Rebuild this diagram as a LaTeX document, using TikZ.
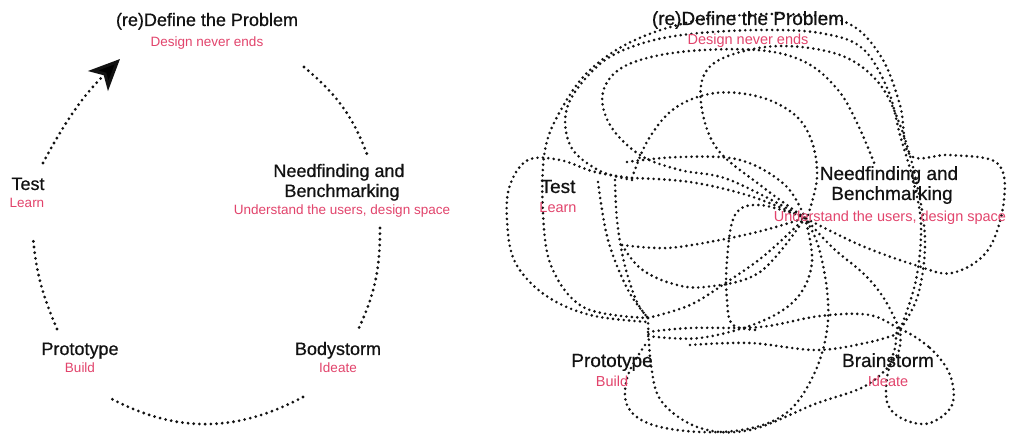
\documentclass[tikz,border=0pt]{standalone}
\usepackage{fontspec}
\setmainfont{Liberation Sans}
\newfontfamily\medfont[FakeBold=0.6]{Liberation Sans}
\usetikzlibrary{arrows.meta}
\definecolor{lbl}{RGB}{226,68,108}
\definecolor{ink}{RGB}{18,18,18}
\begin{document}
\begin{tikzpicture}[x=1pt,y=-1pt,
  dotline/.style={draw=ink, line width=3.1pt, line cap=round, dash pattern=on 0pt off 5.7pt},
  rdot/.style={draw=ink, line width=2.9pt, line cap=round, dash pattern=on 0pt off 5.4pt},
  ttl/.style={font=\medfont\fontsize{18}{20}\selectfont, text=ink, inner sep=0pt, anchor=base},
  sub/.style={font=\fontsize{13.5}{15}\selectfont, text=lbl, inner sep=0pt, anchor=base},
  rttl/.style={font=\medfont\fontsize{19}{21}\selectfont, text=ink, inner sep=0pt, anchor=base},
  rsub/.style={font=\fontsize{14.5}{16}\selectfont, text=lbl, inner sep=0pt, anchor=base},
  sm/.style={smooth, tension=0.6}]
\useasboundingbox[fill=white] (0,0) rectangle (1010,435);

% ---------------- left panel ----------------
\node[ttl] (defL) at (207,26) {(re)Define the Problem};
\node[sub] (defLs) at (207,47) {Design never ends};
\node[ttl] (needL1) at (339,177) {Needfinding and};
\node[ttl] (needL2) at (342,197) {Benchmarking};
\node[sub] (needLs) at (342,215) {Understand the users, design space};
\node[ttl] (bodyL) at (338,355) {Bodystorm};
\node[sub] (bodyLs) at (338,373) {Ideate};
\node[ttl] (protL) at (80,355) {Prototype};
\node[sub] (protLs) at (80,373) {Build};
\node[ttl] (testL) at (28,190) {Test};
\node[sub] (testLs) at (27,208) {Learn};

\coordinate (a1s) at (43,163);  \coordinate (a1e) at (120,59);
\coordinate (a2s) at (304,67);  \coordinate (a2e) at (368,157);
\coordinate (a3s) at (380,228); \coordinate (a3e) at (358,330);
\coordinate (a4s) at (303,397); \coordinate (a4e) at (110,398);
\coordinate (a5s) at (57,329);  \coordinate (a5e) at (33,237);

\draw[dotline, -{Stealth[length=31pt,width=28pt,inset=8pt,fill=black]}] (a1s) to[out=62,in=225] (a1e);
\draw[dotline] (a2s) to[out=-40,in=110] (a2e);
\draw[dotline] (a3s) to[out=-90,in=65] (a3e);
\draw[dotline] (a4s) to[out=-152,in=-28] (a4e);
\draw[dotline] (a5s) to[out=113,in=-85] (a5e);

% ---------------- right panel ----------------
% outer loop
\draw[rdot] plot[sm] coordinates {(648,318) (585,308) (552,268) (543,213) (545,150) (562,108) (590,70) (635,40) (700,20) (780,14) (845,22) (880,55) (900,105) (910,155) (950,155) (997,163) (1004,200) (988,250) (952,273) (915,265) (860,245) (805,218)};
% left loop round Test
\draw[rdot] plot[sm] coordinates {(632,178) (595,172) (560,160) (528,160) (510,185) (507,220) (515,262) (545,295) (590,315) (648,322)};
% second top arc
\draw[rdot] plot[sm] coordinates {(632,180) (598,170) (570,145) (568,105) (600,64) (640,44) (690,34) (760,30) (820,33) (862,48) (888,90) (900,135) (913,180) (921,225) (916,280) (900,330)};
% petal via (603,90)
\draw[rdot] plot[sm] coordinates {(805,218) (730,180) (680,170) (640,155) (610,125) (603,92) (625,66) (680,52) (757,50) (805,62) (838,90) (858,125) (875,165)};
% petal via (700,90)
\draw[rdot] plot[sm] coordinates {(805,218) (760,185) (718,150) (702,110) (704,75) (728,56) (780,46) (840,55) (878,82) (900,125) (916,180) (925,240) (918,295) (900,330)};
% inner petal from Test over top
\draw[rdot] plot[sm] coordinates {(632,178) (648,140) (675,108) (715,93) (760,97) (795,115) (812,142) (817,178) (808,215)};
% horizontal Test -> Need
\draw[rdot] plot[sm] coordinates {(627,162) (680,157) (740,160) (785,185) (805,218)};
\draw[rdot] plot[sm] coordinates {(632,178) (690,182) (750,196) (805,218)};
\draw[rdot] plot[sm] coordinates {(622,245) (667,248) (720,240) (765,230) (805,218)};
\draw[rdot] plot[sm] coordinates {(622,245) (640,268) (670,283) (705,287) (760,272) (805,218)};
% Test <-> Prototype
\draw[rdot] plot[sm] coordinates {(615,180) (617,220) (624,262) (636,300) (648,318)};
\draw[rdot] plot[sm] coordinates {(598,182) (608,240) (628,290) (648,318)};
% Prototype -> Need
\draw[rdot] plot[sm] coordinates {(648,318) (690,305) (727,282) (765,255) (805,218)};
% vertical petal x~728
\draw[rdot] plot[sm] coordinates {(805,218) (760,205) (735,215) (727,260) (727,300) (733,325) (760,330)};
% Prototype -> Brainstorm
\draw[rdot] plot[sm] coordinates {(648,332) (690,328) (760,327) (820,316) (870,315) (900,330)};
\draw[rdot] plot[sm] coordinates {(690,345) (750,343) (817,350) (870,342) (900,333)};
% Need -> Prototype
\draw[rdot] plot[sm] coordinates {(805,218) (812,262) (797,298) (760,322) (700,338) (648,336)};
% bottom arcs
\draw[rdot] plot[sm] coordinates {(648,318) (651,365) (662,402) (700,428) (750,430) (815,404) (867,385) (897,355) (900,330)};
\draw[rdot] plot[sm] coordinates {(645,345) (628,375) (627,405) (650,424) (700,432) (752,428) (790,410) (815,372) (827,330) (827,290) (818,245) (805,218)};
% Need -> Brainstorm
\draw[rdot] plot[sm] coordinates {(805,218) (833,248) (865,275) (885,300) (900,330)};
% Brainstorm loop
\draw[rdot] plot[smooth cycle, tension=0.6] coordinates {(900,330) (930,348) (950,375) (952,405) (930,423) (905,420) (888,405) (887,378) (895,348)};

\node[rttl] (defR) at (748,25) {(re)Define the Problem};
\node[rsub] (defRs) at (748,45) {Design never ends};
\node[rttl] (needR1) at (889,180) {Needfinding and};
\node[rttl] (needR2) at (892,200) {Benchmarking};
\node[rsub] (needRs) at (890,222) {Understand the users, design space};
\node[rttl] (testR) at (558,193) {Test};
\node[rsub] (testRs) at (558,213) {Learn};
\node[rttl] (protR) at (612,367) {Prototype};
\node[rsub] (protRs) at (612,387) {Build};
\node[rttl] (brainR) at (888,367) {Brainstorm};
\node[rsub] (brainRs) at (888,387) {Ideate};
\end{tikzpicture}
\end{document}
